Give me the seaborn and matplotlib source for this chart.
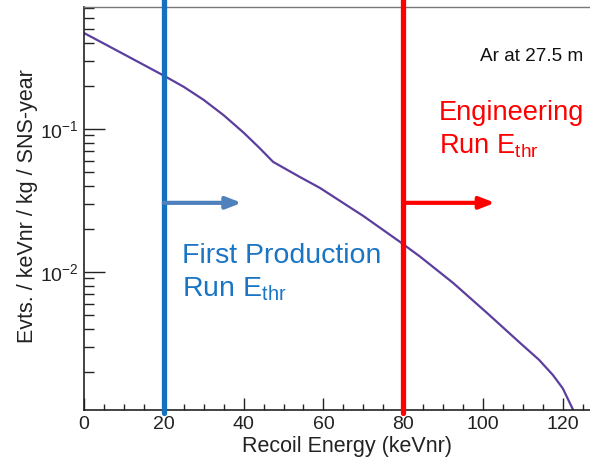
import matplotlib
matplotlib.use("Agg")
import matplotlib.pyplot as plt
import seaborn as sns
import pandas as pd

# Recoil spectrum (keVnr vs events / keVnr / kg / SNS-year)
energy = [0, 10, 20, 25, 30, 35, 40, 44, 47.4, 54.1, 59.1, 70, 79.2, 84.2,
          92.5, 101, 109.3, 114, 117.5, 120, 122.6, 124]
rate = [0.469, 0.333, 0.236, 0.197, 0.1596, 0.1247, 0.0942, 0.0735, 0.0588,
        0.0461, 0.0387, 0.0246, 0.0162, 0.0128, 0.00837, 0.00516, 0.00318,
        0.00243, 0.00190, 0.00153, 0.00108, 0.00088]

# Threshold markers
thresholds = [20, 80]
threshold_labels = ["First Production\nRun E$_{\\mathrm{thr}}$",
                    "Engineering\nRun E$_{\\mathrm{thr}}$"]
xticks = [0, 20, 40, 60, 80, 100, 120]
yticks = [1e-2, 1e-1]
ytick_labels = ["$10^{-2}$", "$10^{-1}$"]

sns.set_style("white")
plt.rcParams["font.family"] = ["Liberation Sans", "DejaVu Sans"]
plt.rcParams["mathtext.fontset"] = "custom"
plt.rcParams["mathtext.rm"] = "Liberation Sans"
plt.rcParams["mathtext.it"] = "Liberation Sans:italic"
plt.rcParams["mathtext.bf"] = "Liberation Sans:bold"

fig = plt.figure(figsize=(5.90, 4.59), dpi=100)
ax_w = 130 * 3.99
ax = fig.add_axes([84 / 590, 49 / 459, ax_w / 590, 403 / 459])

df = pd.DataFrame({"E": energy, "rate": rate})
sns.lineplot(data=df, x="E", y="rate", ax=ax, color="#5b3e9e", lw=1.6)

ax.set_yscale("log")
ax.set_xlim(0, 130)
ax.set_ylim(1.08e-3, 0.713)

ax.set_xticks(xticks)
ax.set_xticklabels([str(t) for t in xticks])
ax.set_xticks(list(range(0, 131, 5)), minor=True)
ax.set_yticks(yticks)
ax.set_yticklabels(ytick_labels)
ax.yaxis.set_minor_locator(matplotlib.ticker.LogLocator(base=10, subs=range(2, 10)))
ax.yaxis.set_minor_formatter(matplotlib.ticker.NullFormatter())

ax.tick_params(axis="both", which="both", direction="in", bottom=True,
               left=True, top=False, right=False, color="#222222", width=1)
ax.tick_params(axis="both", which="major", labelsize=14, labelcolor="#222222")
ax.tick_params(axis="x", which="major", length=9, pad=4)
ax.tick_params(axis="x", which="minor", length=4)
ax.tick_params(axis="y", which="major", length=15, pad=4)
ax.tick_params(axis="y", which="minor", length=7)

for side in ["left", "bottom"]:
    ax.spines[side].set_color("#222222")
    ax.spines[side].set_linewidth(1.2)
ax.spines["top"].set_color("#777777")
ax.spines["top"].set_linewidth(1.0)
ax.spines["right"].set_visible(False)

ax.set_xlabel("Recoil Energy (keVnr)", fontsize=15.5, color="#222222")
ax.set_ylabel("Evts. / keVnr / kg / SNS-year", fontsize=15.5, color="#222222")
ax.xaxis.label.set_va("baseline")
ax.xaxis.set_label_coords((347 - 84) / ax_w, (410 - 452) / 403)
ax.yaxis.label.set_va("center")
ax.yaxis.set_label_coords((28 - 84) / ax_w, (410 - 206) / 403)

# Threshold lines, arrows and labels
line_colors = ["#1570c0", "#ff0000"]
arrow_colors = ["#4f81bd", "#ff0000"]
for x, c in zip(thresholds, line_colors):
    ax.axvline(x, ymin=-0.008, ymax=1.02, color=c, lw=3.8, clip_on=False,
               zorder=3)

arrow_len = [19.5, 23]
arrow_y = 0.0304
for x, c, L in zip(thresholds, arrow_colors, arrow_len):
    ax.annotate("", xy=(x + L, arrow_y), xytext=(x, arrow_y),
                arrowprops=dict(arrowstyle="-|>,head_length=0.9,head_width=0.35",
                                color=c, lw=3, shrinkA=0, shrinkB=0),
                zorder=4)

# each label line placed at its own baseline
label_pos = [(24.6, [0.01156, 0.00668]), (88.9, [0.1156, 0.0668])]
label_sizes = [20.5, 19.6]
text_colors = ["#1a75c5", "#ff0000"]
for lab, (lx, ys), c, fs in zip(threshold_labels, label_pos, text_colors,
                                label_sizes):
    for line, ly in zip(lab.split("\n"), ys):
        ax.text(lx, ly, line, color=c, fontsize=fs, ha="left",
                va="baseline", clip_on=False)

ax.text(99.2, 0.299, "Ar at 27.5 m", color="#111111", fontsize=13.7,
        ha="left", va="baseline")

fig.savefig("out.png", dpi=100)
